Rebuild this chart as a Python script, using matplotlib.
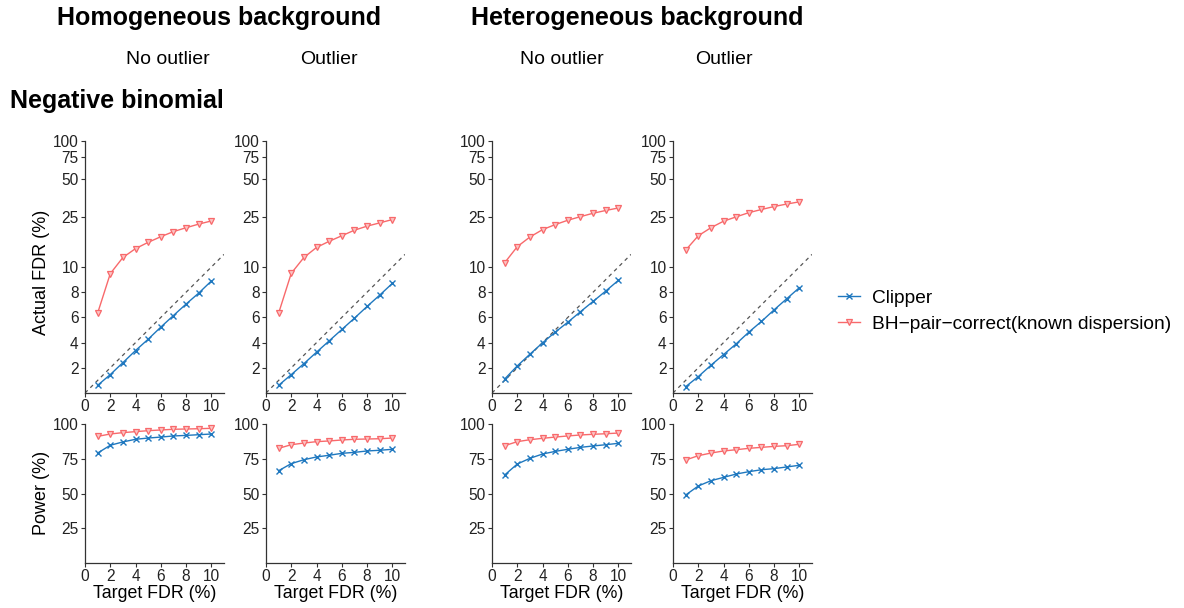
import numpy as np
import matplotlib
matplotlib.use("Agg")
from matplotlib import pyplot as plt

plt.rcParams['font.family'] = ['Liberation Sans', 'DejaVu Sans']

# target FDR (%)
target = [1, 2, 3, 4, 5, 6, 7, 8, 9, 10]

# actual FDR (%) -- panels: homo/no outlier, homo/outlier, hetero/no outlier, hetero/outlier
fdr_clipper = [
  [0.61, 1.46, 2.41, 3.37, 4.27, 5.23, 6.15, 7.06, 7.93, 8.89],
  [0.61, 1.46, 2.33, 3.24, 4.14, 5.04, 5.94, 6.87, 7.77, 8.70],
  [1.11, 2.15, 3.08, 3.98, 4.83, 5.62, 6.45, 7.27, 8.09, 8.94],
  [0.50, 1.30, 2.20, 3.05, 3.90, 4.83, 5.68, 6.60, 7.48, 8.36],
]
fdr_bh = [
  [6.34, 9.47, 11.9, 14.0, 15.7, 17.4, 19.1, 20.5, 21.9, 23.2],
  [6.34, 9.50, 11.9, 14.3, 16.0, 17.7, 19.6, 21.1, 22.4, 23.8],
  [10.8, 14.5, 17.3, 19.8, 21.7, 23.5, 25.1, 26.7, 28.1, 29.4],
  [13.6, 17.7, 20.5, 23.1, 25.0, 27.0, 28.6, 30.2, 31.6, 32.9],
]

# power (%)
pow_clipper = [
  [79.1, 84.7, 87.1, 89.0, 89.9, 90.6, 91.4, 91.8, 92.3, 92.8],
  [66.4, 71.5, 74.3, 76.3, 77.5, 78.9, 79.6, 80.6, 81.1, 81.8],
  [63.3, 71.2, 75.3, 78.4, 80.3, 81.8, 83.2, 84.2, 85.1, 86.1],
  [48.9, 55.4, 59.2, 61.6, 64.0, 65.7, 67.1, 67.9, 69.1, 70.3],
]
pow_bh = [
  [91.1, 92.8, 93.8, 94.5, 95.2, 95.7, 96.2, 96.4, 96.6, 96.9],
  [82.5, 85.1, 86.3, 87.3, 87.8, 88.5, 89.0, 89.2, 89.4, 89.9],
  [84.4, 87.3, 88.7, 89.7, 90.6, 91.4, 92.1, 92.6, 93.0, 93.5],
  [74.1, 77.2, 79.1, 80.6, 81.5, 82.5, 83.2, 83.9, 84.4, 85.4],
]

fdr_ticks = [2, 4, 6, 8, 10, 25, 50, 75, 100]
pow_ticks = [25, 50, 75, 100]
x_ticks = [0, 2, 4, 6, 8, 10]

c_clip = '#1f78bf'
c_bh = '#f8696b'

# linear below 10, log10 above
def fwd(v):
  v = np.asarray(v, dtype=float)
  return np.where(v <= 10, v/10, 1 + np.log10(np.maximum(v, 10)/10))

def inv(u):
  u = np.asarray(u, dtype=float)
  return np.where(u <= 1, u*10, 10**np.minimum(u, 5))

W, H = 1184, 608
fig = plt.figure(figsize=(W/100, H/100), dpi=100)

lefts = [85, 266, 492, 673]
aw = 139

def px(x0, y0, w, h):
  return [x0/W, 1 - (y0 + h)/H, w/W, h/H]

def style(ax):
  for s in ['top', 'right']:
    ax.spines[s].set_visible(False)
  for s in ['left', 'bottom']:
    ax.spines[s].set_color('#333333')
    ax.spines[s].set_linewidth(0.9)
  ax.tick_params(length=3, width=0.8, color='#333333', labelsize=11.2,
                 labelcolor='#222222', pad=1.5)
  ax.set_xlim(0, 11)
  ax.set_xticks(x_ticks)

# identity line, straight on the transformed axis
diag_x = np.array([0, 11])
diag_y = inv(diag_x/10)

for i in range(4):
  ax = fig.add_axes(px(lefts[i], 141, aw, 252))
  ax.set_yscale('function', functions=(fwd, inv))
  ax.plot(diag_x, diag_y, ls=(0, (3, 3)), color='#555555', lw=0.9)
  ax.plot(target, fdr_clipper[i], color=c_clip, lw=1, marker='x', ms=4, mew=1)
  ax.plot(target, fdr_bh[i], color=c_bh, lw=1, marker='v', ms=5, mfc='#fbc4c4', mew=0.9)
  ax.set_ylim(0, 100)
  ax.set_yticks(fdr_ticks)
  ax.set_yticklabels([str(t) for t in fdr_ticks])
  ax.yaxis.set_minor_locator(matplotlib.ticker.NullLocator())
  style(ax)

  ax2 = fig.add_axes(px(lefts[i], 424, aw, 139))
  ax2.plot(target, pow_clipper[i], color=c_clip, lw=1, marker='x', ms=4, mew=1,
           label='Clipper')
  ax2.plot(target, pow_bh[i], color=c_bh, lw=1, marker='v', ms=5, mfc='#fbc4c4', mew=0.9,
           label='BH\u2212pair\u2212correct(known dispersion)')
  ax2.set_ylim(0, 100)
  ax2.set_yticks(pow_ticks)
  style(ax2)
  ax2.set_xlabel('Target FDR (%)', fontsize=12.8, labelpad=0.5)

def ft(x, y, s, **kw):
  fig.text(x/W, 1 - y/H, s, **kw)

ft(219, 18, 'Homogeneous background', fontsize=18, fontweight='bold', ha='center', va='center')
ft(637, 18, 'Heterogeneous background', fontsize=18, fontweight='bold', ha='center', va='center')
for x, s in [(168, 'No outlier'), (329, 'Outlier'), (562, 'No outlier'), (724, 'Outlier')]:
  ft(x, 59, s, fontsize=14, ha='center', va='center')
ft(10, 101, 'Negative binomial', fontsize=18, fontweight='bold', ha='left', va='center')
ft(42, 272, 'Actual FDR (%)', fontsize=13, rotation=90, ha='center', va='center')
ft(42, 493, 'Power (%)', fontsize=13, rotation=90, ha='center', va='center')

handles, labels = ax2.get_legend_handles_labels()
fig.legend(handles, labels, loc='center left', bbox_to_anchor=(838/W, 1 - 311/H),
           frameon=False, fontsize=13.8, handlelength=1.15, handletextpad=0.6,
           labelspacing=0.45, borderpad=0, borderaxespad=0)

fig.savefig('out.png', dpi=100)
